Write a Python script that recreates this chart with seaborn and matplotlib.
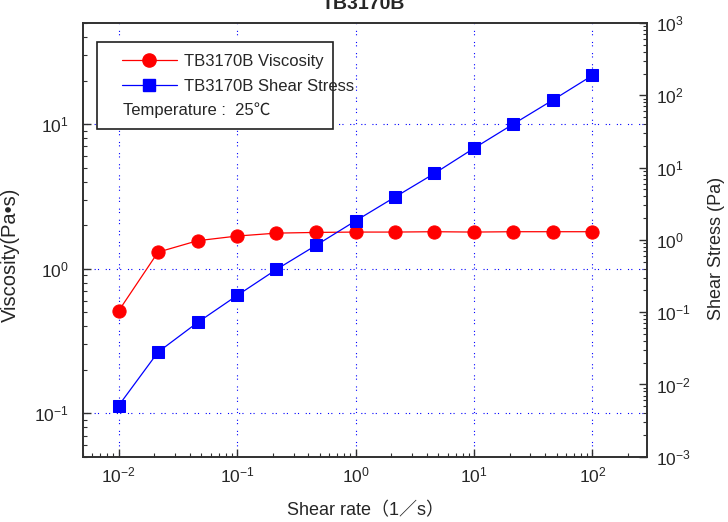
import numpy as np
import pandas as pd
import seaborn as sns
import matplotlib.pyplot as plt
from matplotlib.lines import Line2D
from matplotlib.patches import Rectangle

# data
shear_rate = [0.01, 0.0215, 0.0464, 0.1, 0.215, 0.464, 1.0, 2.15, 4.64, 10.0, 21.5, 46.4, 100.0]
viscosity = [0.51, 1.30, 1.56, 1.68, 1.76, 1.78, 1.79, 1.79, 1.80, 1.79, 1.80, 1.80, 1.80]
shear_stress = [0.0051, 0.028, 0.072, 0.17, 0.39, 0.84, 1.83, 3.9, 8.3, 18.5, 40.0, 86.0, 188.0]
series_names = ['TB3170B Viscosity', 'TB3170B Shear Stress']
temperature_note = 'Temperature :  25℃'
chart_title = 'TB3170B'

df = pd.DataFrame({'rate': shear_rate, 'visc': viscosity, 'stress': shear_stress})

sns.set_style('ticks')
plt.rcParams['font.family'] = ['Liberation Sans', 'Noto Sans CJK JP']
plt.rcParams['axes.edgecolor'] = '#303030'
plt.rcParams['axes.linewidth'] = 1.2

fig = plt.figure(figsize=(7.28, 5.22), dpi=100)
ax = fig.add_axes([0.114, 0.125, 0.775, 0.831])
ax2 = ax.twinx()

ax.set_xscale('log')
ax.set_yscale('log')
ax2.set_yscale('log')

sns.lineplot(data=df, x='rate', y='visc', ax=ax, color='red', marker='o',
             markersize=9.5, markeredgecolor='red', linewidth=0.9, legend=False)
sns.lineplot(data=df, x='rate', y='stress', ax=ax2, color='blue', marker='s',
             markersize=8, markeredgecolor='blue', linewidth=0.9, legend=False)

ax.set_xlim(5e-3, 2.9e2)
ax.set_ylim(0.05, 50)
ax2.set_ylim(1e-3, 1e3)

# dotted blue grid
ax.grid(True, which='major', color='blue', linestyle=(0, (1, 2, 1, 6)), linewidth=0.8)
ax2.grid(False)

ax.tick_params(which='major', direction='in', length=6, width=1, color='#303030',
               labelsize=12.5, top=False, right=False)
ax.tick_params(which='minor', direction='in', length=3, width=0.8, color='#303030',
               top=False, right=False)
ax.tick_params(axis='y', which='major', pad=10)
ax.tick_params(axis='x', which='major', pad=6)
ax2.tick_params(which='major', direction='in', length=6, width=1, color='#303030',
                labelsize=12.5, pad=6, left=False)
ax2.tick_params(which='minor', direction='in', length=3, width=0.8, color='#303030', left=False)

ax.set_xlabel('Shear rate（1／s）', fontsize=13)
ax.set_ylabel('Viscosity(Pa•s)', fontsize=14.5)
ax2.set_xlabel('')
ax2.set_ylabel('Shear Stress (Pa)', fontsize=13)
ax.xaxis.set_label_coords(0.5, -0.105)
ax.yaxis.set_label_coords(-0.112, 0.465)
ax2.yaxis.set_label_coords(1.108, 0.481)

# legend box with the two series and the temperature note
box = Rectangle((0.025, 0.755), 0.418, 0.201, transform=ax2.transAxes,
                facecolor='white', edgecolor='#202020', linewidth=1.2, zorder=5)
ax2.add_patch(box)
handles = [
    Line2D([], [], color='red', marker='o', markersize=9.5, linewidth=0.9),
    Line2D([], [], color='blue', marker='s', markersize=8, linewidth=0.9),
]
leg = ax2.legend(handles, series_names, loc='upper left', bbox_to_anchor=(0.069, 0.929),
                 frameon=False, fontsize=12, handlelength=3.3, handletextpad=0.45,
                 labelspacing=0.6, borderpad=0, borderaxespad=0)
leg.set_zorder(6)
ax2.text(0.071, 0.799, temperature_note, transform=ax2.transAxes, fontsize=12,
         va='center', ha='left', zorder=7)

# title sits partly above the top edge, as in the reference
fig.text(0.499, 1 - 9 / 522, chart_title, ha='center', va='baseline',
         fontsize=14, fontweight='bold')

fig.savefig('out.png', dpi=100, facecolor='white')
